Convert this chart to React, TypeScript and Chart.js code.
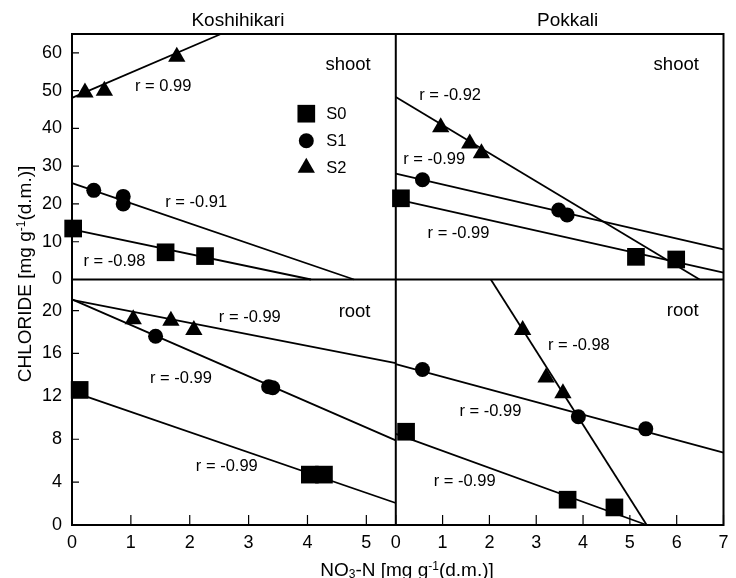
import React, { useEffect, useRef } from 'react';
import { Chart, registerables } from 'chart.js';

Chart.register(...registerables);

const FONT = '"Liberation Sans", Arial, Helvetica, sans-serif';

// ---- axes ----
const X_LEFT_RANGE = [0, 5.5];
const X_RIGHT_RANGE = [0, 7];
const Y_TOP_RANGE = [0, 65];
const Y_BOTTOM_RANGE = [0, 22.9];
const X_LEFT_TICKS = [0, 1, 2, 3, 4, 5];
const X_RIGHT_TICKS = [0, 1, 2, 3, 4, 5, 6, 7];
const Y_TOP_TICKS = [0, 10, 20, 30, 40, 50, 60];
const Y_BOTTOM_TICKS = [0, 4, 8, 12, 16, 20];

const CULTIVARS = ['Koshihikari', 'Pokkali'];
const SERIES = ['S0', 'S1', 'S2'];
const ORGANS = ['shoot', 'root'];

// ---- Koshihikari shoot ----
const KS_S0_X = [0.02, 1.59, 2.26];
const KS_S0_Y = [13.5, 7.2, 6.2];
const KS_S1_X = [0.37, 0.87, 0.87];
const KS_S1_Y = [23.6, 22.0, 20.0];
const KS_S2_X = [0.22, 0.55, 1.78];
const KS_S2_Y = [49.5, 50.0, 59.0];
const KS_FIT_S0_X = [0, 4.06];
const KS_FIT_S0_Y = [13.3, 0];
const KS_FIT_S1_X = [0, 4.79];
const KS_FIT_S1_Y = [25.5, 0];
const KS_FIT_S2_X = [0, 2.53];
const KS_FIT_S2_Y = [48.1, 65];
const KS_R = ['r = -0.98', 'r = -0.91', 'r = 0.99'];

// ---- Pokkali shoot ----
const PS_S0_X = [0.11, 5.13, 5.99];
const PS_S0_Y = [21.5, 6.0, 5.3];
const PS_S1_X = [0.57, 3.48, 3.66];
const PS_S1_Y = [26.4, 18.4, 17.1];
const PS_S2_X = [0.96, 1.58, 1.83];
const PS_S2_Y = [40.3, 36.0, 33.4];
const PS_FIT_S0_X = [0, 7];
const PS_FIT_S0_Y = [21.3, 1.8];
const PS_FIT_S1_X = [0, 7];
const PS_FIT_S1_Y = [28.0, 8.0];
const PS_FIT_S2_X = [0, 6.49];
const PS_FIT_S2_Y = [48.3, 0];
const PS_R = ['r = -0.99', 'r = -0.99', 'r = -0.92'];

// ---- Koshihikari root ----
const KR_S0_X = [0.13, 4.04, 4.28];
const KR_S0_Y = [12.6, 4.7, 4.7];
const KR_S1_X = [1.42, 3.34, 3.41];
const KR_S1_Y = [17.6, 12.9, 12.8];
const KR_S2_X = [1.04, 1.68, 2.07];
const KR_S2_Y = [19.2, 19.05, 18.2];
const KR_FIT_S0_X = [0, 5.5];
const KR_FIT_S0_Y = [12.45, 2.05];
const KR_FIT_S1_X = [0, 5.5];
const KR_FIT_S1_Y = [21.05, 7.9];
const KR_FIT_S2_X = [0, 5.5];
const KR_FIT_S2_Y = [21.0, 15.1];
const KR_R = ['r = -0.99', 'r = -0.99', 'r = -0.99'];

// ---- Pokkali root ----
const PR_S0_X = [0.22, 3.67, 4.67];
const PR_S0_Y = [8.7, 2.36, 1.64];
const PR_S1_X = [0.57, 3.9, 5.34];
const PR_S1_Y = [14.5, 10.1, 8.97];
const PR_S2_X = [2.71, 3.21, 3.57];
const PR_S2_Y = [18.2, 13.76, 12.3];
const PR_FIT_S0_X = [0, 5.36];
const PR_FIT_S0_Y = [8.5, 0];
const PR_FIT_S1_X = [0, 7];
const PR_FIT_S1_Y = [15.0, 6.76];
const PR_FIT_S2_X = [2.03, 5.36];
const PR_FIT_S2_Y = [22.9, 0];
const PR_R = ['r = -0.99', 'r = -0.99', 'r = -0.98'];

// label anchor positions (data units of each panel): [x, y] for S0, S1, S2 r-labels, then organ label
const KS_LABEL_POS = [[0.72, 4.9], [2.11, 20.4], [1.55, 51.0], [4.69, 56.7]];
const PS_LABEL_POS = [[1.34, 12.2], [0.82, 31.7], [1.16, 48.6], [5.99, 56.7]];
const KR_LABEL_POS = [[2.63, 5.46], [1.85, 13.69], [3.02, 19.4], [4.8, 19.9]];
const PR_LABEL_POS = [[1.47, 4.06], [2.02, 10.58], [3.91, 16.79], [6.13, 19.98]];
const LEGEND_POS = [3.98, 43.9];

const MARKERS = [
  { pointStyle: 'rect', radius: 12.5 },
  { pointStyle: 'circle', radius: 7.5 },
  { pointStyle: 'triangle', radius: 10 },
];

const PANELS = [
  { x: 'xL', y: 'yT', organ: 0, pts: [[KS_S0_X, KS_S0_Y], [KS_S1_X, KS_S1_Y], [KS_S2_X, KS_S2_Y]], fits: [[KS_FIT_S0_X, KS_FIT_S0_Y], [KS_FIT_S1_X, KS_FIT_S1_Y], [KS_FIT_S2_X, KS_FIT_S2_Y]], r: KS_R, pos: KS_LABEL_POS },
  { x: 'xR', y: 'yT', organ: 0, pts: [[PS_S0_X, PS_S0_Y], [PS_S1_X, PS_S1_Y], [PS_S2_X, PS_S2_Y]], fits: [[PS_FIT_S0_X, PS_FIT_S0_Y], [PS_FIT_S1_X, PS_FIT_S1_Y], [PS_FIT_S2_X, PS_FIT_S2_Y]], r: PS_R, pos: PS_LABEL_POS },
  { x: 'xL', y: 'yB', organ: 1, pts: [[KR_S0_X, KR_S0_Y], [KR_S1_X, KR_S1_Y], [KR_S2_X, KR_S2_Y]], fits: [[KR_FIT_S0_X, KR_FIT_S0_Y], [KR_FIT_S1_X, KR_FIT_S1_Y], [KR_FIT_S2_X, KR_FIT_S2_Y]], r: KR_R, pos: KR_LABEL_POS },
  { x: 'xR', y: 'yB', organ: 1, pts: [[PR_S0_X, PR_S0_Y], [PR_S1_X, PR_S1_Y], [PR_S2_X, PR_S2_Y]], fits: [[PR_FIT_S0_X, PR_FIT_S0_Y], [PR_FIT_S1_X, PR_FIT_S1_Y], [PR_FIT_S2_X, PR_FIT_S2_Y]], r: PR_R, pos: PR_LABEL_POS },
];

const toPts = (xs: number[], ys: number[]) => xs.map((x, i) => ({ x, y: ys[i] }));

function buildDatasets() {
  const ds: any[] = [];
  PANELS.forEach((p) => {
    p.fits.forEach(([fx, fy], i) => {
      ds.push({
        label: SERIES[i] + ' fit',
        data: toPts(fx, fy),
        xAxisID: p.x,
        yAxisID: p.y,
        showLine: true,
        pointRadius: 0,
        borderColor: '#000',
        borderWidth: 1.8,
        clip: false,
        order: 2,
      });
    });
    p.pts.forEach(([px, py], i) => {
      ds.push({
        label: SERIES[i],
        data: toPts(px, py),
        xAxisID: p.x,
        yAxisID: p.y,
        showLine: false,
        pointStyle: MARKERS[i].pointStyle,
        pointRadius: MARKERS[i].radius,
        backgroundColor: '#000',
        borderColor: '#000',
        borderWidth: 0,
        clip: false,
        order: 1,
      });
    });
  });
  return ds;
}

function makeScale(range: number[], ticks: number[], position: string, stack: string, stackWeight: number, weight: number, padding: number) {
  const horizontal = position === 'bottom';
  return {
    type: 'linear',
    position,
    min: range[0],
    max: range[1],
    stack,
    stackWeight,
    weight,
    grid: { display: false, drawTicks: false },
    border: { display: false },
    ticks: { autoSkip: false, maxRotation: 0, padding, color: '#000', font: { size: 18, family: FONT } },
    afterBuildTicks: (s: any) => {
      s.ticks = ticks.map((v) => ({ value: v }));
    },
    afterFit: (s: any) => {
      if (horizontal) s.height = 53;
      else s.width = 72;
      s.paddingLeft = 0;
      s.paddingRight = 0;
      s.paddingTop = 0;
      s.paddingBottom = 0;
    },
  };
}

function drawRich(ctx: CanvasRenderingContext2D, segs: { t: string; m: string }[], x: number, y: number, size: number, small: number, rot: number) {
  ctx.save();
  ctx.translate(x, y);
  if (rot) ctx.rotate(rot);
  ctx.textAlign = 'left';
  ctx.textBaseline = 'alphabetic';
  const widths = segs.map((s) => {
    ctx.font = `${s.m === 'n' ? size : small}px ${FONT}`;
    return ctx.measureText(s.t).width;
  });
  const total = widths.reduce((a, b) => a + b, 0);
  let cx = -total / 2;
  const base = size * 0.358;
  segs.forEach((s, i) => {
    ctx.font = `${s.m === 'n' ? size : small}px ${FONT}`;
    const dy = s.m === 'sup' ? -size * 0.33 : s.m === 'sub' ? size * 0.12 : 0;
    ctx.fillText(s.t, cx, base + dy);
    cx += widths[i];
  });
  ctx.restore();
}

function drawMarker(ctx: CanvasRenderingContext2D, style: string, r: number, x: number, y: number) {
  ctx.beginPath();
  if (style === 'rect') {
    const h = r * Math.SQRT1_2;
    ctx.rect(x - h, y - h, 2 * h, 2 * h);
  } else if (style === 'circle') {
    ctx.arc(x, y, r, 0, Math.PI * 2);
  } else {
    ctx.moveTo(x, y - r);
    ctx.lineTo(x + r * Math.sin((2 * Math.PI) / 3), y + r * 0.5);
    ctx.lineTo(x - r * Math.sin((2 * Math.PI) / 3), y + r * 0.5);
    ctx.closePath();
  }
  ctx.fill();
}

const panelPlugin = {
  id: 'panelFrame',
  beforeDatasetsDraw(chart: any) {
    const { ctx } = chart;
    const { xL, xR, yT, yB } = chart.scales;
    const left = xL.left, right = xR.right, top = yT.top, bottom = yB.bottom;
    const midX = xL.right, midY = yT.bottom;
    ctx.save();
    ctx.strokeStyle = '#000';
    ctx.lineWidth = 2;
    ctx.strokeRect(left, top, right - left, bottom - top);
    ctx.beginPath();
    ctx.moveTo(midX, top);
    ctx.lineTo(midX, bottom);
    ctx.moveTo(left, midY);
    ctx.lineTo(right, midY);
    ctx.stroke();
    ctx.lineWidth = 1.2;
    ctx.beginPath();
    [[yT, Y_TOP_TICKS], [yB, Y_BOTTOM_TICKS]].forEach(([s, ts]: any) => {
      ts.forEach((v: number) => {
        const py = s.getPixelForValue(v);
        ctx.moveTo(left, py);
        ctx.lineTo(left + 7, py);
      });
    });
    [[xL, X_LEFT_TICKS], [xR, X_RIGHT_TICKS]].forEach(([s, ts]: any) => {
      ts.forEach((v: number) => {
        const px = s.getPixelForValue(v);
        ctx.moveTo(px, bottom);
        ctx.lineTo(px, bottom - 10);
      });
    });
    ctx.stroke();
    ctx.restore();
  },
  afterDraw(chart: any) {
    const { ctx } = chart;
    const { xL, xR, yT, yB } = chart.scales;
    ctx.save();
    ctx.fillStyle = '#000';
    ctx.textAlign = 'center';
    ctx.textBaseline = 'middle';
    // cultivar titles
    ctx.font = `19px ${FONT}`;
    ctx.fillText(CULTIVARS[0], (xL.left + xL.right) / 2 + 4, yT.top - 13);
    ctx.fillText(CULTIVARS[1], (xR.left + xR.right) / 2 + 8, yT.top - 13);
    // panel labels
    PANELS.forEach((p) => {
      const sx = chart.scales[p.x];
      const sy = chart.scales[p.y];
      ctx.font = `16.5px ${FONT}`;
      p.r.forEach((t, i) => {
        ctx.fillText(t, sx.getPixelForValue(p.pos[i][0]), sy.getPixelForValue(p.pos[i][1]));
      });
      ctx.font = `18.5px ${FONT}`;
      ctx.fillText(ORGANS[p.organ], sx.getPixelForValue(p.pos[3][0]), sy.getPixelForValue(p.pos[3][1]));
    });
    // legend
    const lx = xL.getPixelForValue(LEGEND_POS[0]);
    const ly = yT.getPixelForValue(LEGEND_POS[1]);
    ctx.textAlign = 'left';
    ctx.font = `16.5px ${FONT}`;
    SERIES.forEach((s, i) => {
      const y = ly + i * 27;
      drawMarker(ctx, MARKERS[i].pointStyle, MARKERS[i].radius, lx, y);
      ctx.fillText(s, lx + 20, y + 1);
    });
    // axis titles
    drawRich(ctx, [
      { t: 'CHLORIDE [mg g', m: 'n' },
      { t: '-1', m: 'sup' },
      { t: '(d.m.)]', m: 'n' },
    ], 24, 274, 19, 12, -Math.PI / 2);
    drawRich(ctx, [
      { t: 'NO', m: 'n' },
      { t: '3', m: 'sub' },
      { t: '-N [mg g', m: 'n' },
      { t: '-1', m: 'sup' },
      { t: '(d.m.)]', m: 'n' },
    ], 407, 569, 19, 12, 0);
    ctx.restore();
  },
};

export default function App() {
  const ref = useRef<HTMLCanvasElement>(null);
  useEffect(() => {
    const chart = new Chart(ref.current as HTMLCanvasElement, {
      type: 'scatter',
      data: { datasets: buildDatasets() },
      options: {
        responsive: false,
        animation: false,
        events: [],
        layout: { padding: { top: 34, right: 2, left: 0, bottom: 0 } },
        plugins: { legend: { display: false }, tooltip: { enabled: false }, title: { display: false } },
        scales: {
          xL: makeScale(X_LEFT_RANGE, X_LEFT_TICKS, 'bottom', 'h', 329, 0, 7),
          xR: makeScale(X_RIGHT_RANGE, X_RIGHT_TICKS, 'bottom', 'h', 333, 1, 7),
          yT: makeScale(Y_TOP_RANGE, Y_TOP_TICKS, 'left', 'v', 1, 1, 10),
          yB: makeScale(Y_BOTTOM_RANGE, Y_BOTTOM_TICKS, 'left', 'v', 1, 0, 10),
        } as any,
      },
      plugins: [panelPlugin],
    } as any);
    return () => chart.destroy();
  }, []);
  return (
    <div style={{ position: 'absolute', left: 0, top: 0, width: 736, height: 578, background: '#fff' }}>
      <canvas ref={ref} width={736} height={578} style={{ display: 'block' }} />
    </div>
  );
}
